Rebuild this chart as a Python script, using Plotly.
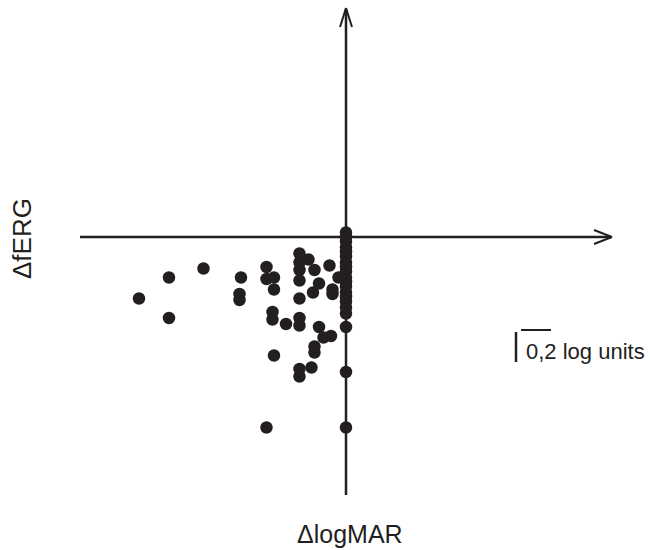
import plotly.graph_objects as go

# Data: change in logMAR (x) vs change in fERG (y), log units
d_logmar = [-1.38, -1.18, -0.95, -1.18, -0.70, -0.71, -0.71, -0.53, -0.53, -0.48,
            -0.48, -0.49, -0.49, -0.40, -0.48, -0.53, -0.31, -0.31, -0.31, -0.31,
            -0.31, -0.31, -0.31, -0.31, -0.31, -0.25, -0.21, -0.11, -0.18, -0.22,
            -0.09, -0.09, -0.05, -0.18, -0.15, -0.10, -0.21, -0.21, -0.23, 0.0,
            0.0, 0.0,
            0.0, 0.0, 0.0, 0.0, 0.0, 0.0, 0.0, 0.0, 0.0, 0.0, 0.0, 0.0, 0.0,
            0.0, 0.0, 0.0, 0.0]
d_ferg = [-0.41, -0.27, -0.21, -0.54, -0.27, -0.38, -0.42, -0.20, -0.28, -0.27,
          -0.35, -0.50, -0.55, -0.58, -0.79, -1.27, -0.11, -0.17, -0.22, -0.29,
          -0.41, -0.54, -0.59, -0.88, -0.93, -0.15, -0.22, -0.19, -0.31, -0.37,
          -0.35, -0.38, -0.27, -0.60, -0.67, -0.66, -0.73, -0.77, -0.87, -0.60,
          -0.90, -1.27,
          0.03, 0.0, -0.03, -0.07, -0.10, -0.13, -0.17, -0.20, -0.23, -0.27,
          -0.30, -0.33, -0.37, -0.40, -0.43, -0.47, -0.51]

scale_len = 0.2
W, H = 650, 550
PX_PER_UNIT = 150.0
ox, oy = 346, 237  # pixel location of origin

ink = "#231f20"
font_family = "Liberation Sans, Arial, Helvetica, sans-serif"

fig = go.Figure()
fig.add_trace(go.Scatter(
    x=d_logmar, y=d_ferg, mode="markers",
    marker=dict(size=12.5, color=ink, line=dict(width=0)),
    hoverinfo="skip", showlegend=False,
))

def px(x):
    return x / W

def py(y):
    return 1 - y / H

shapes = []
lw = 2.5
# horizontal axis with chevron arrow
shapes.append(dict(type="line", xref="paper", yref="paper", x0=px(80), y0=py(oy), x1=px(611), y1=py(oy),
                   line=dict(color=ink, width=lw)))
shapes.append(dict(type="line", xref="paper", yref="paper", x0=px(594), y0=py(oy - 7), x1=px(612), y1=py(oy),
                   line=dict(color=ink, width=2)))
shapes.append(dict(type="line", xref="paper", yref="paper", x0=px(594), y0=py(oy + 7), x1=px(612), y1=py(oy),
                   line=dict(color=ink, width=2)))
# vertical axis with chevron arrow
shapes.append(dict(type="line", xref="paper", yref="paper", x0=px(ox), y0=py(495), x1=px(ox), y1=py(9),
                   line=dict(color=ink, width=lw)))
shapes.append(dict(type="line", xref="paper", yref="paper", x0=px(ox - 6), y0=py(27), x1=px(ox), y1=py(8),
                   line=dict(color=ink, width=2)))
shapes.append(dict(type="line", xref="paper", yref="paper", x0=px(ox + 6), y0=py(27), x1=px(ox), y1=py(8),
                   line=dict(color=ink, width=2)))

# scale bar (0.2 log units), in data coordinates
sb_x = (516 - ox) / PX_PER_UNIT
sb_ytop = (oy - 332) / PX_PER_UNIT
shapes.append(dict(type="line", xref="x", yref="y", x0=sb_x, y0=sb_ytop, x1=sb_x, y1=sb_ytop - scale_len,
                   line=dict(color=ink, width=2.5)))
hb_x0 = (521 - ox) / PX_PER_UNIT
hb_y = (oy - 330) / PX_PER_UNIT
shapes.append(dict(type="line", xref="x", yref="y", x0=hb_x0, y0=hb_y, x1=hb_x0 + scale_len, y1=hb_y,
                   line=dict(color=ink, width=2)))

annotations = [
    dict(text="0,2 log units", xref="paper", yref="paper", x=px(525), y=py(351),
         xanchor="left", yanchor="middle", showarrow=False, borderpad=0,
         font=dict(family=font_family, size=22, color=ink)),
    dict(text="ΔlogMAR", xref="paper", yref="paper", x=px(350), y=py(549),
         xanchor="center", yanchor="bottom", showarrow=False, borderpad=0,
         font=dict(family=font_family, size=25, color=ink)),
    dict(text="ΔfERG", xref="paper", yref="paper", x=px(22), y=py(239),
         xanchor="center", yanchor="middle", showarrow=False, textangle=-90, borderpad=0,
         font=dict(family=font_family, size=26, color=ink)),
]

fig.update_layout(
    width=W, height=H,
    margin=dict(l=0, r=0, t=0, b=0),
    paper_bgcolor="white", plot_bgcolor="white",
    xaxis=dict(visible=False, range=[-ox / PX_PER_UNIT, (W - ox) / PX_PER_UNIT], fixedrange=True),
    yaxis=dict(visible=False, range=[-(H - oy) / PX_PER_UNIT, oy / PX_PER_UNIT], fixedrange=True),
    shapes=shapes, annotations=annotations,
)

fig.write_html("out.html")
